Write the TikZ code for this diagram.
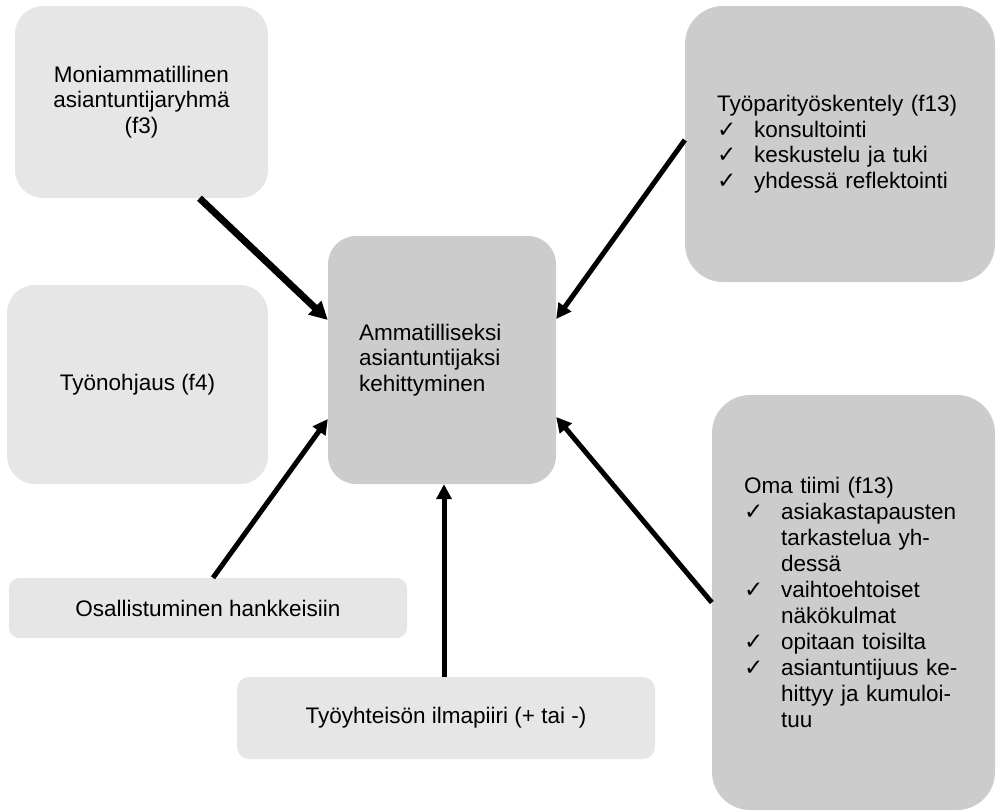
\documentclass[tikz,border=0pt]{standalone}
\usepackage{fontspec}
\setmainfont{Liberation Sans}
\newfontfamily\symfont{DejaVu Sans}
\usetikzlibrary{arrows.meta,positioning}
\definecolor{boxlight}{RGB}{230,230,230}
\definecolor{boxdark}{RGB}{204,204,204}
\newcommand{\chkmark}{\makebox[37pt][l]{\symfont\fontsize{23}{23}\selectfont ✓}}
\newcommand{\chkindent}{\hspace*{37pt}}

\begin{document}
\begin{tikzpicture}[
  x=1pt, y=-1pt,
  font=\fontsize{22.5}{25.5}\selectfont,
  lightbox/.style={fill=boxlight, align=center, inner sep=0pt},
  darkbox/.style={fill=boxdark, align=left, inner sep=0pt},
  arrow/.style={-{Triangle[length=15pt,width=15pt]}, line width=5pt}
]
\useasboundingbox (0,0) rectangle (997,811);

\node[darkbox, rounded corners=28pt, minimum width=228pt, minimum height=248pt, text width=166pt] (hub) at (442,360) {Ammatilliseksi\\asiantuntijaksi\\kehittyminen};

\node[lightbox, rounded corners=28pt, minimum width=253pt, minimum height=192pt] (multi) at (141.5,102) {Moniammatillinen\\asiantuntijaryhmä\\(f3)};
\node[lightbox, rounded corners=28pt, minimum width=261pt, minimum height=199pt] (ohjaus) at (137.5,384.5) {Työnohjaus (f4)};
\node[lightbox, rounded corners=10pt, minimum width=398pt, minimum height=60pt] (osall) at (208,608) {Osallistuminen hankkeisiin};
\node[lightbox, rounded corners=12pt, minimum width=418pt, minimum height=82pt] (ilma) at (446,718) {Työyhteisön ilmapiiri (+ tai -)};

\node[darkbox, rounded corners=38pt, minimum width=310pt, minimum height=276pt, text width=246pt] (pari) at (840,144) {Työparityöskentely (f13)\\
\chkmark konsultointi\\
\chkmark keskustelu ja tuki\\
\chkmark yhdessä reflektointi};

\node[darkbox, rounded corners=38pt, minimum width=283pt, minimum height=415pt, text width=219pt, font=\fontsize{22.5}{26}\selectfont] (tiimi) at (853.5,602.5) {Oma tiimi (f13)\\
\chkmark asiakastapausten\\
\chkindent tarkastelua yh-\\
\chkindent dessä\\
\chkmark vaihtoehtoiset\\
\chkindent näkökulmat\\
\chkmark opitaan toisilta\\
\chkmark asiantuntijuus ke-\\
\chkindent\makebox[176pt][s]{hittyy ja kumuloi-}\\
\chkindent tuu};

\draw[arrow, line width=7pt, -{Triangle[length=18pt,width=18pt]}] ([xshift=58pt]multi.south) -- ([yshift=40pt]hub.west);
\draw[arrow] ([xshift=5pt]osall.north) -- ([yshift=-59pt]hub.west);
\draw[arrow] ([xshift=-2pt]ilma.north) -- ([xshift=2pt]hub.south);
\draw[arrow] ([yshift=4pt]pari.west) -- ([yshift=41pt]hub.east);
\draw[arrow] (tiimi.west) -- ([yshift=-57pt]hub.east);

\end{tikzpicture}
\end{document}
